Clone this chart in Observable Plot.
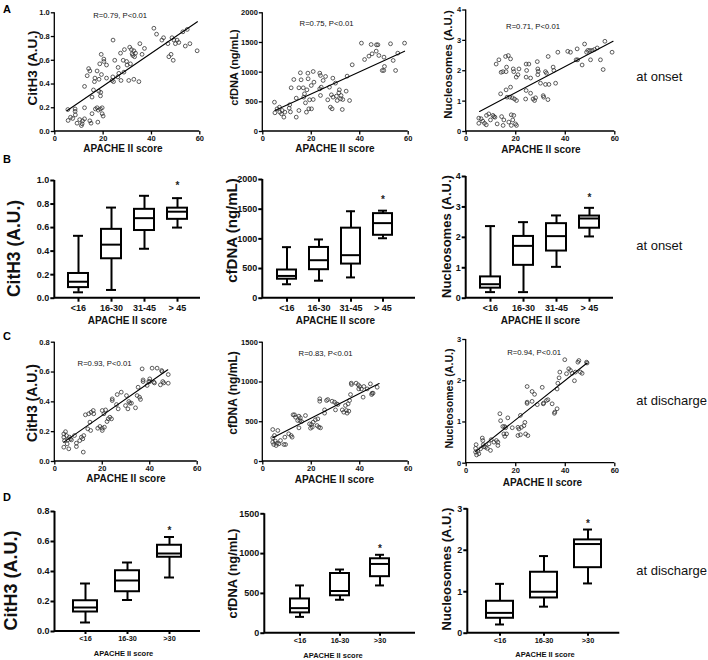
<!DOCTYPE html>
<html><head><meta charset="utf-8">
<script src="https://cdn.jsdelivr.net/npm/d3@7"></script>
<script src="https://cdn.jsdelivr.net/npm/@observablehq/plot@0.6"></script>
<style>
body{margin:0;background:#fff;}
#fig{position:relative;width:708px;height:660px;overflow:hidden;font-family:"Liberation Sans",Arial,sans-serif;}
#fig svg{position:absolute;left:0;top:0;}
</style></head><body><div id="fig"></div>
<script>
const W = 708, H = 660;

// ---------- DATA ----------
const xTicks = [0, 20, 40, 60];
const scoreGroups4 = ["<16", "16-30", "31-45", "> 45"];
const scoreGroups3 = ["<16", "16-30", ">30"];

// A: at onset, scatter [APACHE II, value]
const onsetCitH3 = [[5.4,0.185],[5.5,0.093],[6.5,0.12],[7.4,0.11],[8.4,0.19],[8.4,0.17],[8.5,0.14],[9.2,0.07],[10.3,0.10],[11,0.05],[11.3,0.065],[11.5,0.09],[12.3,0.107],[12.3,0.2],[12.3,0.38],[13.4,0.47],[14,0.53],[14.5,0.51],[14.5,0.09],[15,0.07],[15.4,0.15],[15.4,0.29],[16,0.35],[16.4,0.42],[16.6,0.45],[16.8,0.19],[17.5,0.2],[17.5,0.51],[17.8,0.079],[18,0.18],[18.2,0.34],[18.3,0.44],[18.6,0.57],[18.9,0.19],[18.9,0.30],[19,0.33],[19.2,0.65],[19.3,0.48],[19.6,0.2],[19.6,0.15],[20,0.13],[20.3,0.59],[20.3,0.61],[21.4,0.56],[21.4,0.45],[23.7,0.43],[24,0.46],[24.1,0.77],[24.3,0.42],[24.8,0.60],[26.1,0.46],[26.2,0.54],[26.5,0.49],[27.2,0.66],[27.4,0.43],[28.3,0.60],[28.6,0.5],[28.8,0.69],[29.7,0.59],[29.9,0.56],[30.6,0.43],[31,0.71],[31.3,0.57],[31.7,0.69],[32,0.655],[32.3,0.64],[32.7,0.68],[32.7,0.44],[33,0.63],[33.4,0.66],[34.8,0.42],[35.2,0.74],[36.1,0.65],[37.1,0.70],[41,0.87],[42.1,0.82],[44.3,0.77],[45,0.79],[46.8,0.74],[47.2,0.63],[48.1,0.65],[48.5,0.79],[49,0.60],[49.3,0.77],[49.9,0.74],[50.6,0.77],[51.3,0.75],[53,0.84],[54,0.72],[54.8,0.86],[55.9,0.74],[58.9,0.68]];
const onsetCfDNA = [[4.8,494],[5,315],[5.9,382],[6.9,410],[7,326],[7.7,298],[8,354],[8.7,242],[9.1,326],[10.9,393],[11.1,450],[11.7,736],[11.4,330],[12.8,876],[13.8,562],[13.8,242],[14.9,354],[14.9,736],[15.5,989],[15.8,871],[16.7,736],[16.9,579],[17.2,635],[17.6,483],[18,326],[18.2,702],[18.6,983],[18.7,888],[19,382],[19.3,534],[20,775],[20.1,382],[20.8,539],[20.8,1011],[21.1,831],[23.5,983],[23.5,719],[23.8,944],[23.8,607],[24.1,747],[24.9,860],[25.9,927],[26.8,534],[27.5,747],[27.9,410],[28.3,618],[28.6,382],[28.9,899],[29,579],[30,815],[30.4,596],[30.7,522],[31.4,652],[31.6,702],[32.1,551],[32.3,607],[32.8,371],[33,539],[34.4,680],[34.8,933],[35.8,522],[36.9,1124],[40.7,1489],[42,1213],[43.8,1270],[44.7,1466],[45.1,1309],[46.8,1354],[46.9,1461],[47.5,1461],[47.9,1281],[49.3,1028],[49.9,1028],[50.2,1096],[50,1253],[52.7,1478],[53.8,1197],[54.8,1028],[55.7,1320],[58.5,1489]];
const onsetNuc = [[5.1,0.44],[5.1,0.27],[6,0.42],[6.7,0.34],[7.4,0.27],[8.1,0.22],[8.2,0.53],[9.1,0.58],[9.8,0.38],[10.8,0.53],[11.2,0.49],[11.6,0.47],[12.1,2.22],[12.5,0.25],[13.2,2.36],[13.9,1.24],[14.1,1.95],[14.3,0.49],[14.8,1.97],[14.9,0.20],[15.2,0.38],[15.9,2.47],[16.1,1.97],[16.1,1.37],[16.3,2.12],[16.5,1.13],[17,2.5],[17.2,0.31],[17.6,1.13],[17.9,1.46],[17.9,2.39],[18.2,0.55],[18.2,0.2],[18.6,1.11],[18.8,0.38],[19,2.06],[19.2,1.97],[19.2,0.53],[19.5,1.07],[19.9,0.25],[20.2,1.79],[20.3,1.02],[20.3,0.2],[20.9,1.87],[21.3,2.06],[24,1.07],[24.2,2.22],[24.2,1.79],[24.2,1.35],[24.4,2.01],[25.3,2.22],[26,1.76],[26,1.26],[27,1.07],[27.6,1.02],[28,1.11],[28.7,2.3],[28.9,1.87],[28.9,2.06],[29.1,1.98],[30,1.59],[31.1,1.18],[31.3,1.13],[32,1.97],[32,1.55],[32.4,1.92],[33,1.05],[33.1,2.47],[33.4,1.55],[35.1,2.12],[35.4,2.01],[36.1,1.59],[37,2.61],[41,2.64],[42.1,2.61],[44.4,2.36],[44.8,2.72],[45,2.36],[46.8,2.19],[47.8,2.88],[48.6,2.61],[49.1,2.67],[49.9,2.67],[50.2,2.36],[50.9,2.67],[51.8,2.70],[52.9,2.75],[54.2,2.36],[55.3,2.04],[56,2.97],[58.9,2.61]];

// C: at discharge
const dischCitH3 = [[3.8,0.185],[3.8,0.163],[3.8,0.096],[4.1,0.14],[4.5,0.2],[4.9,0.174],[5.2,0.118],[5.5,0.145],[5.9,0.085],[6.2,0.163],[6.6,0.152],[7,0.145],[8.3,0.174],[9.1,0.1],[9.1,0.123],[10.5,0.14],[11.2,0.163],[11.8,0.152],[12,0.063],[12.2,0.174],[12.9,0.313],[13.9,0.219],[14.3,0.32],[14.8,0.264],[15.1,0.208],[15.3,0.33],[16.2,0.342],[16.4,0.32],[18.1,0.223],[19,0.235],[20,0.223],[20,0.208],[20,0.342],[20.7,0.32],[20.9,0.23],[21.4,0.346],[22,0.268],[22.5,0.286],[23.2,0.297],[23.9,0.286],[24.2,0.42],[24.2,0.409],[26,0.382],[26.3,0.449],[26.7,0.353],[28,0.465],[29.8,0.375],[30.2,0.442],[30.8,0.353],[31.2,0.402],[31.6,0.391],[32.3,0.391],[34,0.36],[34.7,0.442],[35.1,0.498],[35.7,0.431],[36.1,0.416],[36.8,0.621],[37.2,0.547],[37.2,0.536],[38.9,0.51],[39.6,0.536],[40,0.554],[40,0.536],[41,0.626],[41.7,0.532],[42,0.527],[43.1,0.626],[44.5,0.514],[45,0.61],[45.2,0.603],[45.5,0.536],[45.9,0.527],[47.8,0.583],[47.8,0.525]];
const dischCfDNA = [[4.1,402],[4.1,297],[4.1,243],[4.5,214],[4.8,327],[5.2,256],[5.5,201],[5.9,230],[6.2,390],[6.6,222],[7.3,264],[8.7,214],[9.1,306],[9.4,214],[10.7,348],[11.7,327],[12.1,306],[12.5,587],[13.1,587],[13.5,557],[14.4,515],[14.9,570],[14.9,423],[15.3,515],[15.5,549],[16,503],[17.6,578],[19.3,473],[19.7,419],[20.1,465],[20.4,432],[20.8,494],[21.7,524],[22.4,452],[22.7,536],[23.1,432],[23.5,788],[23.5,758],[23.8,423],[25.5,649],[25.5,608],[26.3,767],[26.8,779],[28.6,758],[29.6,746],[30,649],[30.4,725],[31,717],[32.8,649],[33.4,620],[34.1,704],[34.5,641],[34.8,608],[35.2,725],[35.5,633],[35.8,767],[36.2,842],[36.5,985],[36.6,968],[38.5,985],[39.4,964],[39.6,913],[40,943],[40.7,913],[41.4,809],[41.7,943],[43.1,913],[44.4,976],[44.9,842],[45.1,859],[45.5,859],[47.2,934]];
const dischNuc = [[3.8,0.27],[3.8,0.36],[4,0.45],[4.2,0.2],[4.7,0.29],[5.1,0.23],[5.8,0.35],[6.5,0.61],[6.7,0.55],[6.9,0.45],[7.1,0.4],[7.8,0.39],[8.5,0.36],[9.2,0.47],[9.8,0.31],[10.1,0.57],[11.2,0.51],[12.2,0.55],[12.8,0.51],[12.8,0.43],[13.6,1.2],[13.9,1.03],[14.8,0.89],[15.2,0.71],[15.5,0.89],[15.6,0.65],[15.9,0.86],[16.3,0.71],[16.8,1.1],[18.6,0.86],[20.9,0.67],[20.9,0.87],[21.3,0.83],[21.9,1.16],[21.9,0.69],[22.3,0.87],[23.3,0.91],[23.7,0.99],[24,0.71],[24.6,1.86],[24.6,1.48],[24.6,1.45],[24.9,0.67],[26.6,1.74],[26.6,1.5],[27.6,1.67],[28.7,1.42],[30.7,1.84],[31.1,1.44],[31.3,1.46],[32.4,1.52],[33,1.54],[34.7,1.44],[35.6,1.21],[35.8,1.24],[36.7,1.32],[36.7,1.8],[37,1.94],[37.5,2.07],[37.8,2.21],[39.8,2.51],[40.5,2.17],[41.4,2.29],[42.1,2.25],[42.8,2.18],[43.7,2],[44.1,2.21],[45.1,2.45],[45.5,2.49],[46.1,2.21],[46.8,2.18],[48.6,2.45],[48.8,2.43]];

// regression lines (end points)
const fitOnsetCitH3 = [[5,0.175],[59,0.925]];
const fitOnsetCfDNA = [[5,354],[58.5,1354]];
const fitOnsetNuc = [[5.4,0.66],[59.3,2.97]];
const fitDischCitH3 = [[3.8,0.13],[47.6,0.615]];
const fitDischCfDNA = [[4.1,300],[48,980]];
const fitDischNuc = [[3.8,0.28],[48.8,2.43]];

// B: box plots at onset  [min, q1, median, q3, max] per group
const boxOnsetCitH3 = [[0.05,0.09,0.14,0.21,0.53],[0.07,0.335,0.455,0.585,0.77],[0.42,0.575,0.68,0.755,0.87],[0.60,0.67,0.735,0.765,0.85]];
const boxOnsetCfDNA = [[235,320,375,475,860],[295,480,640,855,990],[350,575,725,1180,1465],[1010,1060,1265,1425,1475]];
const boxOnsetNuc = [[0.2,0.33,0.46,0.7,2.37],[0.2,1.08,1.72,2.03,2.5],[1.03,1.55,2.04,2.45,2.72],[2.03,2.3,2.62,2.7,2.97]];
// D: box plots at discharge
const boxDischCitH3 = [[0.06,0.13,0.16,0.205,0.32],[0.21,0.265,0.34,0.405,0.46],[0.36,0.495,0.52,0.575,0.63]];
const boxDischCfDNA = [[205,255,315,430,600],[420,470,530,750,800],[600,710,870,935,985]];
const boxDischNuc = [[0.21,0.36,0.49,0.77,1.19],[0.64,0.85,1.0,1.47,1.86],[1.2,1.58,2.15,2.25,2.5]];

// ---------- helpers ----------
const fig = document.getElementById("fig");
const FONT = '"Liberation Sans", Arial, sans-serif';

function axisLines(sw) {
  return (index, scales, values, dims) => {
    const {width, height, marginLeft, marginRight, marginTop, marginBottom} = dims;
    const g = d3.create("svg:g");
    g.append("path")
      .attr("d", `M${marginLeft},${marginTop}V${height - marginBottom}H${width - marginRight}`)
      .attr("fill", "none").attr("stroke", "#000").attr("stroke-width", sw);
    return g.node();
  };
}

function titles(p) {
  const mid = (p.yTop + p.yBot) / 2;
  const xmid = (p.x0 + p.x1) / 2;
  const m = [
    Plot.text([p.yLabel], {text: d => d, frameAnchor: "left", rotate: -90, dx: p.yl[0] - p.x0, dy: p.yl[1] - mid,
      textAnchor: "middle", lineAnchor: "middle", fontSize: p.yl[2], fontWeight: "bold", fill: "#111"}),
    Plot.text(["APACHE II score"], {text: d => d, frameAnchor: "bottom", dx: p.xl[0] - xmid, dy: p.xl[1] - p.yBot,
      textAnchor: "middle", lineAnchor: "middle", fontSize: p.xl[2], fontWeight: "bold", fill: "#111"})
  ];
  if (p.letter) m.push(Plot.text([p.letter[0]], {text: d => d, frameAnchor: "top-left", dx: p.letter[1] - p.x0, dy: p.letter[2] - p.yTop,
      textAnchor: "middle", lineAnchor: "middle", fontSize: 11, fontWeight: "bold", fill: "#000"}));
  if (p.side) m.push(Plot.text([p.side[0]], {text: d => d, frameAnchor: "top-left", dx: p.side[1] - p.x0, dy: p.side[2] - p.yTop,
      textAnchor: "start", lineAnchor: "middle", fontSize: 13, fontWeight: "normal", fill: "#111"}));
  return m;
}

function scatter(p) {
  const pts = p.data.map(([x, y]) => ({x, y}));
  const fit = p.fit.map(([x, y]) => ({x, y}));
  const svg = Plot.plot({
    width: W, height: H,
    marginLeft: p.x0, marginRight: W - p.x1, marginTop: p.yTop, marginBottom: H - p.yBot,
    style: {background: "none", overflow: "visible", fontFamily: FONT},
    x: {domain: [0, 60]},
    y: {domain: [0, p.yMax]},
    marks: [
      Plot.dot(pts, {x: "x", y: "y", r: 1.9, stroke: "#333", strokeWidth: 0.8, fill: "none"}),
      Plot.line(fit, {x: "x", y: "y", stroke: "#000", strokeWidth: 1.1}),
      axisLines(1.3),
      Plot.axisY({ticks: p.yTicks, tickFormat: p.yFmt, tickSize: 3.5, tickPadding: 1.5, fontSize: 7.5, fontWeight: "bold", strokeWidth: 1.3, label: null, fill: "#111"}),
      Plot.axisX({ticks: xTicks, tickSize: 3.5, tickPadding: 0.8, fontSize: 7.5, fontWeight: "bold", strokeWidth: 1.3, label: null, fill: "#111"}),
      Plot.text([p.r[0]], {text: d => d, frameAnchor: "top-left", dx: p.r[1] - p.x0, dy: p.r[2] - p.yTop,
        textAnchor: "middle", lineAnchor: "middle", fontSize: 7.7, fontWeight: "normal", fill: "#111"}),
      ...titles(p)
    ]
  });
  fig.appendChild(svg);
}

function boxes(p) {
  const rows = p.cats.map((c, i) => {
    const [min, q1, med, q3, max] = p.data[i];
    return {c, min, q1, med, q3, max};
  });
  const last = rows[rows.length - 1];
  const sw = 2;
  const svg = Plot.plot({
    width: W, height: H,
    marginLeft: p.x0, marginRight: W - p.x1, marginTop: p.yTop, marginBottom: H - p.yBot,
    style: {background: "none", overflow: "visible", fontFamily: FONT},
    x: {type: "band", domain: p.cats, paddingInner: p.pad[0], paddingOuter: p.pad[1], insetRight: p.insetR || 0},
    y: {domain: [0, p.yMax]},
    marks: [
      Plot.ruleX(rows, {x: "c", y1: "min", y2: "q1", strokeWidth: sw}),
      Plot.ruleX(rows, {x: "c", y1: "q3", y2: "max", strokeWidth: sw}),
      Plot.tickY(rows, {x: "c", y: "min", strokeWidth: sw, insetLeft: p.cap, insetRight: p.cap}),
      Plot.tickY(rows, {x: "c", y: "max", strokeWidth: sw, insetLeft: p.cap, insetRight: p.cap}),
      Plot.barY(rows, {x: "c", y1: "q1", y2: "q3", fill: "white", stroke: "#000", strokeWidth: sw}),
      Plot.tickY(rows, {x: "c", y: "med", strokeWidth: sw}),
      Plot.text([last], {x: "c", y: "max", text: () => "*", dy: -p.starDy, fontSize: 10, fontWeight: "bold", fill: "#222", lineAnchor: "middle"}),
      axisLines(2),
      Plot.axisY({ticks: p.yTicks, tickFormat: p.yFmt, tickSize: 4, tickPadding: 1.5, fontSize: p.tick, fontWeight: "bold", strokeWidth: sw, label: null, fill: "#111"}),
      Plot.axisX({tickSize: p.xTickSize, tickPadding: p.xTickPad, fontSize: p.xtick, fontWeight: "bold", strokeWidth: sw, label: null, fill: "#111"}),
      ...titles(p)
    ]
  });
  fig.appendChild(svg);
}

const f1 = d3.format(".1f"), f0 = d3.format("d");

// ---------- Row A ----------
scatter({x0: 54.3, x1: 199.3, yTop: 12.3, yBot: 131, yMax: 1.0, yTicks: [0,0.2,0.4,0.6,0.8,1.0], yFmt: f1,
  data: onsetCitH3, fit: fitOnsetCitH3, r: ["R=0.79, P<0.01", 119.7, 15],
  yLabel: "CitH3 (A.U.)", yl: [32, 67.5, 13.5], xl: [122.5, 148.3, 10], letter: ["A", 6.5, 8.8]});
scatter({x0: 262.3, x1: 407.7, yTop: 12.3, yBot: 131, yMax: 2000, yTicks: [0,500,1000,1500,2000], yFmt: f0,
  data: onsetCfDNA, fit: fitOnsetCfDNA, r: ["R=0.75, P<0.01", 326, 22.7],
  yLabel: "cfDNA (ng/mL)", yl: [234, 67, 11], xl: [334.5, 148, 10]});
scatter({x0: 465.7, x1: 614.3, yTop: 9.5, yBot: 131, yMax: 4, yTicks: [0,1,2,3,4], yFmt: f0,
  data: onsetNuc, fit: fitOnsetNuc, r: ["R=0.71, P<0.01", 532.5, 25.7],
  yLabel: "Nucleosomes (A.U.)", yl: [448, 64, 11.5], xl: [540.5, 149.7, 10], side: ["at onset", 635.7, 76.7]});

// ---------- Row B ----------
boxes({x0: 54.3, x1: 200, yTop: 180, yBot: 297.7, yMax: 1.0, yTicks: [0,0.2,0.4,0.6,0.8,1.0], yFmt: f1,
  cats: scoreGroups4, data: boxOnsetCitH3, pad: [0.4, 0.4], cap: 5, starDy: 12, tick: 9, xtick: 9, xTickSize: 4, xTickPad: 2,
  yLabel: "CitH3 (A.U.)", yl: [13.5, 248, 17.5], xl: [127, 320, 10], letter: ["B", 6.5, 159]});
boxes({x0: 262.3, x1: 415, insetR: 8, yTop: 179, yBot: 297.7, yMax: 2000, yTicks: [0,500,1000,1500,2000], yFmt: f0,
  cats: scoreGroups4, data: boxOnsetCfDNA, pad: [0.4, 0.4], cap: 5, starDy: 11, tick: 9, xtick: 9, xTickSize: 4, xTickPad: 2,
  yLabel: "cfDNA (ng/mL)", yl: [232, 230, 15], xl: [335, 320, 10]});
boxes({x0: 465.7, x1: 613, yTop: 176, yBot: 297.7, yMax: 4, yTicks: [0,1,2,3,4], yFmt: f0,
  cats: scoreGroups4, data: boxOnsetNuc, pad: [0.4, 0.4], cap: 5, starDy: 10, tick: 9, xtick: 9, xTickSize: 4, xTickPad: 2,
  yLabel: "Nucleosomes (A.U.)", yl: [446.7, 236, 13], xl: [540, 320, 10], side: ["at onset", 635.7, 245]});

// ---------- Row C ----------
scatter({x0: 54.3, x1: 196.7, yTop: 341.7, yBot: 461, yMax: 0.8, yTicks: [0,0.2,0.4,0.6,0.8], yFmt: f1,
  data: dischCitH3, fit: fitDischCitH3, r: ["R=0.93, P<0.01", 104, 363.3],
  yLabel: "CitH3 (A.U.)", yl: [32, 402.5, 14], xl: [125.5, 478.5, 10], letter: ["C", 6.5, 335.5]});
scatter({x0: 262.3, x1: 407.7, yTop: 341.7, yBot: 461, yMax: 1500, yTicks: [0,500,1000,1500], yFmt: f0,
  data: dischCfDNA, fit: fitDischCfDNA, r: ["R=0.83, P<0.01", 325, 353.3],
  yLabel: "cfDNA (ng/mL)", yl: [233, 392.5, 12], xl: [334, 479, 10]});
scatter({x0: 465.7, x1: 614.3, yTop: 339, yBot: 462.7, yMax: 3, yTicks: [0,1,2,3], yFmt: f0,
  data: dischNuc, fit: fitDischNuc, r: ["R=0.94, P<0.01", 533.7, 351.7],
  yLabel: "Nucleosomes (A.U.)", yl: [449.5, 398, 10.6], xl: [542, 482, 10], side: ["at discharge", 635.7, 400]});

// ---------- Row D ----------
boxes({x0: 54.5, x1: 200, yTop: 511, yBot: 631, yMax: 0.8, yTicks: [0,0.2,0.4,0.6,0.8], yFmt: f1,
  cats: scoreGroups3, data: boxDischCitH3, pad: [0.435, 0.435], cap: 7, starDy: 6.5, tick: 9, xtick: 7.3, xTickSize: 3, xTickPad: 1.3,
  yLabel: "CitH3 (A.U.)", yl: [10.5, 580, 18], xl: [123, 653, 7.5], letter: ["D", 6.5, 497]});
boxes({x0: 264.3, x1: 415, yTop: 513.3, yBot: 632.7, yMax: 1500, yTicks: [0,500,1000,1500], yFmt: f0,
  cats: scoreGroups3, data: boxDischCfDNA, pad: [0.53, 0.625], cap: 5, starDy: 6, tick: 9, xtick: 7.3, xTickSize: 3, xTickPad: 1.3,
  yLabel: "cfDNA (ng/mL)", yl: [232.5, 573, 12.9], xl: [332.5, 654.7, 7.5]});
boxes({x0: 467.3, x1: 619.3, yTop: 508.3, yBot: 632.7, yMax: 3, yTicks: [0,1,2,3], yFmt: f0,
  cats: scoreGroups3, data: boxDischNuc, pad: [0.38, 0.39], cap: 9, starDy: 6, tick: 9, xtick: 7.3, xTickSize: 3, xTickPad: 1.3,
  yLabel: "Nucleosomes (A.U.)", yl: [446, 568.5, 13], xl: [544.5, 654, 7.5], side: ["at discharge", 635.7, 570]});
</script></body></html>
